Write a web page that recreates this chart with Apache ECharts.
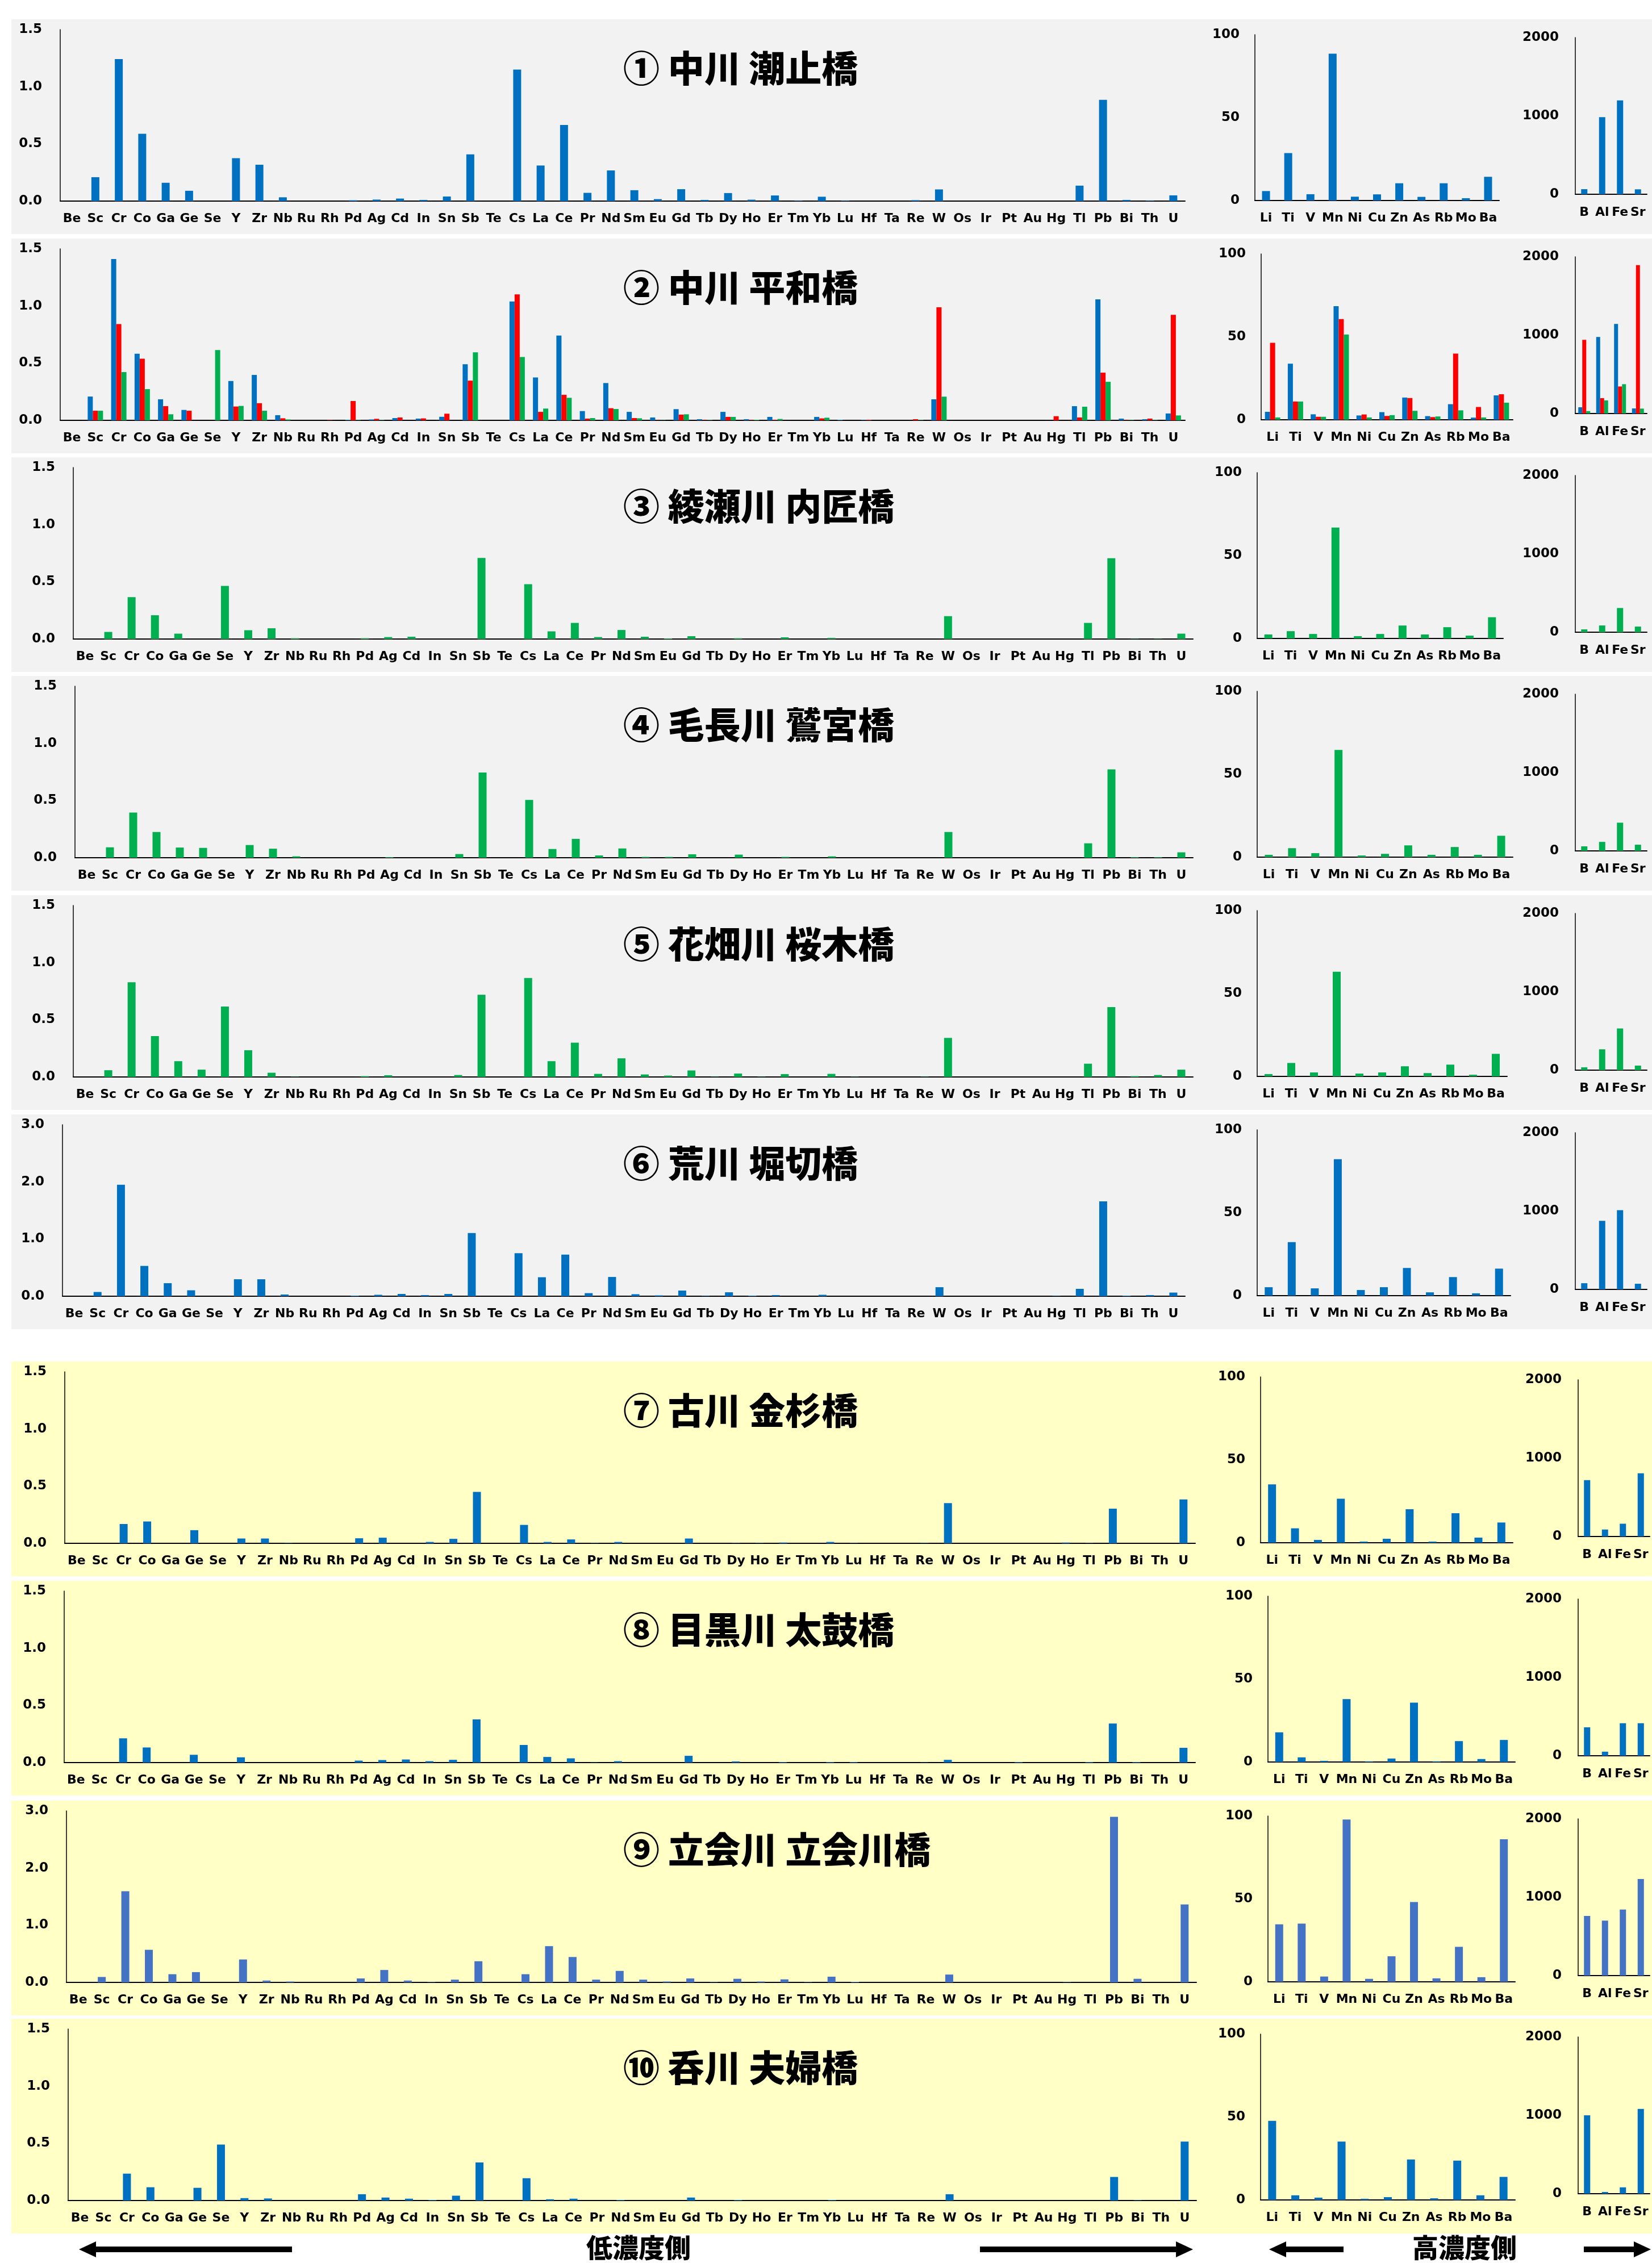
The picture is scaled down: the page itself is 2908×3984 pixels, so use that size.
<!DOCTYPE html>
<html><head><meta charset="utf-8">
<script src="https://cdn.jsdelivr.net/npm/echarts@6/dist/echarts.min.js"></script>
<style>html,body{margin:0;padding:0;background:#fff}#c{width:2908px;height:3984px}</style>
</head><body><div id="c"></div>
<script>
// ---------- categories ----------
const bigCats = ['Be','Sc','Cr','Co','Ga','Ge','Se','Y','Zr','Nb','Ru','Rh','Pd','Ag','Cd','In','Sn','Sb','Te','Cs','La','Ce','Pr','Nd','Sm','Eu','Gd','Tb','Dy','Ho','Er','Tm','Yb','Lu','Hf','Ta','Re','W','Os','Ir','Pt','Au','Hg','Tl','Pb','Bi','Th','U'];
const midCats = ['Li','Ti','V','Mn','Ni','Cu','Zn','As','Rb','Mo','Ba'];
const smallCats = ['B','Al','Fe','Sr'];
const titles = ['① 中川 潮止橋','② 中川 平和橋','③ 綾瀬川 内匠橋','④ 毛長川 鷲宮橋','⑤ 花畑川 桜木橋','⑥ 荒川 堀切橋','⑦ 古川 金杉橋','⑧ 目黒川 太鼓橋','⑨ 立会川 立会川橋','⑩ 呑川 夫婦橋'];
const bigTicks15 = [0, 0.5, 1.0, 1.5];
const bigTicks30 = [0, 1.0, 2.0, 3.0];
const midTicks = [0, 50, 100];
const smallTicks = [0, 1000, 2000];

// ---------- values ----------
const r1Big = [0,0.209,1.242,0.589,0.16,0.09,0,0.375,0.318,0.033,0,0,0.007,0.013,0.022,0.01,0.04,0.408,0,1.15,0.311,0.666,0.072,0.268,0.095,0.017,0.104,0.01,0.07,0.012,0.049,0.003,0.038,0.003,0,0,0.008,0.102,0,0,0,0,0,0.135,0.885,0.01,0.003,0.05];
const r2BigBlue = [0,0.208,1.41,0.582,0.184,0.091,0,0.344,0.397,0.045,0,0,0.005,0.008,0.02,0.015,0.031,0.49,0,1.039,0.375,0.741,0.081,0.326,0.074,0.025,0.098,0.01,0.074,0.01,0.03,0,0.03,0.005,0.003,0,0,0.184,0,0,0,0,0,0.124,1.058,0.015,0.01,0.06];
const r2BigRed = [0,0.084,0.842,0.539,0.124,0.084,0,0.121,0.15,0.018,0,0.003,0.169,0.013,0.025,0.017,0.058,0.347,0,1.101,0.074,0.223,0.015,0.106,0.02,0.002,0.05,0.003,0.03,0.003,0.005,0,0.017,0,0.005,0,0.01,0.989,0,0,0,0,0.036,0.025,0.417,0.003,0.015,0.923];
const r2BigGreen = [0,0.084,0.422,0.273,0.053,0,0.615,0.126,0.084,0.008,0,0,0.003,0.003,0,0,0,0.595,0,0.554,0.103,0.197,0.02,0.099,0.018,0.002,0.053,0.003,0.03,0.005,0.012,0,0.023,0,0,0,0.003,0.207,0,0,0,0,0,0.119,0.337,0.003,0.003,0.043];
const r3Big = [0,0.062,0.366,0.208,0.047,0,0.465,0.077,0.094,0.007,0,0,0.007,0.017,0.02,0,0,0.709,0,0.479,0.067,0.141,0.017,0.079,0.02,0.005,0.025,0,0.007,0,0.015,0,0.01,0,0,0,0,0.2,0,0,0,0,0,0.141,0.707,0.002,0.002,0.047];
const r4Big = [0,0.091,0.395,0.225,0.089,0.086,0,0.111,0.079,0.012,0,0,0,0.005,0,0,0.032,0.745,0,0.506,0.076,0.165,0.02,0.081,0.007,0.007,0.03,0,0.027,0,0.007,0,0.012,0,0,0,0,0.225,0,0,0,0,0,0.126,0.772,0.005,0.005,0.047];
const r5Big = [0,0.059,0.828,0.357,0.138,0.064,0.616,0.234,0.037,0.002,0,0,0.007,0.015,0,0,0.017,0.719,0,0.865,0.138,0.3,0.027,0.163,0.022,0.012,0.057,0.002,0.03,0.002,0.025,0,0.027,0.002,0,0,0.002,0.342,0,0,0,0,0,0.116,0.611,0.007,0.017,0.064];
const r6Big = [0,0.074,1.95,0.53,0.228,0.104,0,0.297,0.297,0.03,0,0,0.01,0.025,0.04,0.02,0.04,1.104,0,0.752,0.332,0.728,0.054,0.337,0.035,0.015,0.099,0.005,0.069,0.01,0.02,0,0.025,0,0,0,0,0.158,0,0,0,0,0.005,0.129,1.658,0.01,0.02,0.064];
const r7Big = [0,0,0.169,0.191,0,0.115,0,0.042,0.042,0.002,0,0,0.044,0.049,0,0.012,0.039,0.45,0,0.161,0.012,0.034,0.002,0.012,0,0,0.042,0,0.002,0.002,0.007,0,0.012,0.002,0,0,0.002,0.352,0,0,0,0,0.007,0.002,0.303,0,0,0.384];
const r8Big = [0,0,0.212,0.132,0,0.068,0,0.046,0,0,0,0,0.017,0.022,0.027,0.012,0.024,0.378,0,0.154,0.049,0.037,0.002,0.012,0,0,0.059,0,0.01,0,0.005,0,0.005,0.005,0,0,0.002,0.024,0,0,0.005,0,0,0.005,0.341,0.005,0,0.129];
const r9Big = [0,0.095,1.595,0.57,0.143,0.18,0,0.401,0.032,0.016,0,0,0.069,0.217,0.032,0.005,0.048,0.37,0,0.143,0.634,0.444,0.048,0.201,0.048,0.016,0.069,0.005,0.063,0.016,0.053,0.005,0.1,0.01,0,0,0,0.137,0,0,0,0,0.005,0,2.895,0.063,0,1.363];
const r10Big = [0,0,0.235,0.116,0,0.111,0.489,0.021,0.018,0,0,0,0.055,0.026,0.016,0.005,0.042,0.333,0,0.195,0.011,0.016,0,0.005,0,0,0.026,0,0.005,0,0,0,0.005,0,0,0,0,0.055,0,0,0,0,0,0,0.206,0.003,0,0.515];

const r1Mid = [5.7,28.6,3.8,88.5,2.3,3.7,10.4,2.2,10.4,1.4,14.3];
const r2MidBlue = [4.8,33.8,3.3,68.5,2.6,4.6,13.4,2.2,9.4,1.3,14.7];
const r2MidRed = [46.4,11.0,1.8,60.7,3.2,2.3,13.1,1.6,39.9,7.7,15.4];
const r2MidGreen = [1.4,11.0,1.8,51.4,1.4,2.8,5.4,2.0,5.7,1.4,10.3];
const r3Mid = [2.4,4.4,2.7,66.9,1.4,2.7,7.8,2.4,6.8,1.7,12.8];
const r4Mid = [1.4,5.4,2.4,64.6,1.0,2.0,7.1,1.4,6.1,1.4,12.9];
const r5Mid = [1.4,8.1,2.4,63.1,1.7,2.4,6.1,2.0,7.1,1.0,13.6];
const r6Mid = [5.1,32.3,4.4,82.3,3.4,5.1,16.7,2.0,11.2,1.4,16.3];
const r7Mid = [35.2,8.7,1.7,26.5,0.7,2.4,20.2,0.7,17.8,3.1,12.2];
const r8Mid = [17.9,2.8,0.7,37.9,0.4,2.1,35.8,0.4,12.6,1.8,13.3];
const r9Mid = [34.7,35.1,3.2,97.9,1.8,15.4,48.1,2.1,21.1,2.8,86.0];
const r10Mid = [47.7,2.8,1.4,35.2,0.7,1.7,24.4,1.0,23.7,2.8,13.9];

const r1Small = [65,984,1197,63];
const r2SmallBlue = [80,976,1143,65];
const r2SmallRed = [940,196,345,1894];
const r2SmallGreen = [31,167,374,63];
const r3Small = [36,86,309,72];
const r4Small = [58,115,360,79];
const r5Small = [36,266,532,58];
const r6Small = [79,875,1011,72];
const r7Small = [719,89,163,807];
const r8Small = [363,52,415,415];
const r9Small = [761,701,843,1231];
const r10Small = [1000,22,81,1081];

// ---------- styling / layout (not data) ----------
const BLUE='#0070C0', RED='#FF0000', GREEN='#00B050', LBLUE='#4472C4';
const rowTops = [34,420,805,1190,1576,1962,2397,2783,3170,3554];
const bigLeft = [106,106,129,132,129,110,114,113,117,120];
const bigRight = [2086,2086,2100,2100,2100,2086,2104,2104,2106,2106];
const midLeft = [2209,2220,2213,2213,2213,2213,2219,2232,2232,2219];
const midRight = [2639,2663,2646,2663,2653,2659,2663,2667,2667,2667];
const smallLeft = [2773,2773,2773,2773,2773,2773,2778,2778,2778,2778];
const smallRight = [2899,2899,2899,2899,2899,2899,2904,2904,2904,2904];

const rows = [
  {big:[[r1Big,BLUE]], mid:[[r1Mid,BLUE]], small:[[r1Small,BLUE]], ticks:bigTicks15},
  {big:[[r2BigBlue,BLUE],[r2BigRed,RED],[r2BigGreen,GREEN]], mid:[[r2MidBlue,BLUE],[r2MidRed,RED],[r2MidGreen,GREEN]], small:[[r2SmallBlue,BLUE],[r2SmallRed,RED],[r2SmallGreen,GREEN]], ticks:bigTicks15},
  {big:[[r3Big,GREEN]], mid:[[r3Mid,GREEN]], small:[[r3Small,GREEN]], ticks:bigTicks15},
  {big:[[r4Big,GREEN]], mid:[[r4Mid,GREEN]], small:[[r4Small,GREEN]], ticks:bigTicks15},
  {big:[[r5Big,GREEN]], mid:[[r5Mid,GREEN]], small:[[r5Small,GREEN]], ticks:bigTicks15},
  {big:[[r6Big,BLUE]], mid:[[r6Mid,BLUE]], small:[[r6Small,BLUE]], ticks:bigTicks30},
  {big:[[r7Big,BLUE]], mid:[[r7Mid,BLUE]], small:[[r7Small,BLUE]], ticks:bigTicks15},
  {big:[[r8Big,BLUE]], mid:[[r8Mid,BLUE]], small:[[r8Small,BLUE]], ticks:bigTicks15},
  {big:[[r9Big,LBLUE]], mid:[[r9Mid,LBLUE]], small:[[r9Small,LBLUE]], ticks:bigTicks30},
  {big:[[r10Big,BLUE]], mid:[[r10Mid,BLUE]], small:[[r10Small,BLUE]], ticks:bigTicks15}
];

const FONT = 'DejaVu Sans';
const CJK = '"Noto Sans CJK JP"';
const grids=[], xAxes=[], yAxes=[], series=[], graphic=[];

rows.forEach((row, r) => {
  const top = rowTops[r];
  const bg = r < 6 ? '#F2F2F2' : '#FFFFC6';
  graphic.push({type:'rect', z:-10, shape:{x:20,y:top,width:2888,height:378}, style:{fill:bg}});
  graphic.push({type:'text', z:100, x:1097, y:top+86,
    style:{text:titles[r], font:'900 64px '+CJK, fill:'#000', textAlign:'left', textVerticalAlign:'middle', verticalAlign:'middle'}});
  const panels = [
    {cats:bigCats, ser:row.big, left:bigLeft[r], right:bigRight[r], t:top+18, b:top+320, ticks:row.ticks, dec:true, bw: row.big.length>1?9:14, lm:32, xm:20},
    {cats:midCats, ser:row.mid, left:midLeft[r], right:midRight[r], t:top+27, b:top+319, ticks:midTicks, dec:false, bw: row.mid.length>1?9:14, lm:27, xm:20},
    {cats:smallCats, ser:row.small, left:smallLeft[r], right:smallRight[r], t:top+32, b:top+308, ticks:smallTicks, dec:false, bw: row.small.length>1?7:11, lm:29, xm:21}
  ];
  panels.forEach(p => {
    const gi = grids.length;
    grids.push({left:p.left, top:p.t, width:p.right-p.left, height:p.b-p.t, containLabel:false});
    xAxes.push({type:'category', gridIndex:gi, data:p.cats,
      axisTick:{show:false}, axisLine:{show:true, lineStyle:{color:'#000', width:2}},
      axisLabel:{interval:0, margin:p.xm, color:'#000', fontFamily:FONT, fontWeight:'bold', fontSize:22}});
    const mx = p.ticks[p.ticks.length-1];
    yAxes.push({type:'value', gridIndex:gi, min:0, max:mx, interval:p.ticks[1]-p.ticks[0],
      axisLine:{show:true, lineStyle:{color:'#000', width:1.5}}, axisTick:{show:false}, splitLine:{show:false},
      axisLabel:{margin:p.lm, color:'#000', fontFamily:FONT, fontWeight:'bold', fontSize:23,
        formatter: v => p.dec ? v.toFixed(1) : String(v)}});
    p.ser.forEach(s => {
      series.push({type:'bar', xAxisIndex:gi, yAxisIndex:gi, data:s[0], barWidth:p.bw, barGap:'0%',
        itemStyle:{color:s[1]}, silent:true});
    });
  });
});

// bottom arrows and captions
function arrow(tip, tail, y, head) {
  const d = tip < tail ? 1 : -1;
  const hx = tip + d*head;
  return {type:'polygon', z:50, shape:{points:[[tip,y],[hx,y-14],[hx,y-5],[tail,y-5],[tail,y+5],[hx,y+5],[hx,y+14]]}, style:{fill:'#000'}};
}
graphic.push(arrow(139, 514, 3960, 30));
graphic.push(arrow(2100, 1725, 3960, 30));
graphic.push(arrow(2234, 2365, 3960, 30));
graphic.push(arrow(2906, 2788, 3960, 30));
graphic.push({type:'text', z:50, x:1124, y:3957, style:{text:'低濃度側', font:'900 46px '+CJK, fill:'#000', textAlign:'center', textVerticalAlign:'middle', verticalAlign:'middle'}});
graphic.push({type:'text', z:50, x:2578, y:3957, style:{text:'高濃度側', font:'900 46px '+CJK, fill:'#000', textAlign:'center', textVerticalAlign:'middle', verticalAlign:'middle'}});

const chart = echarts.init(document.getElementById('c'), null, {renderer:'canvas', width:2908, height:3984});
chart.setOption({animation:false, backgroundColor:'#fff', grid:grids, xAxis:xAxes, yAxis:yAxes, series:series, graphic:graphic});
</script></body></html>
